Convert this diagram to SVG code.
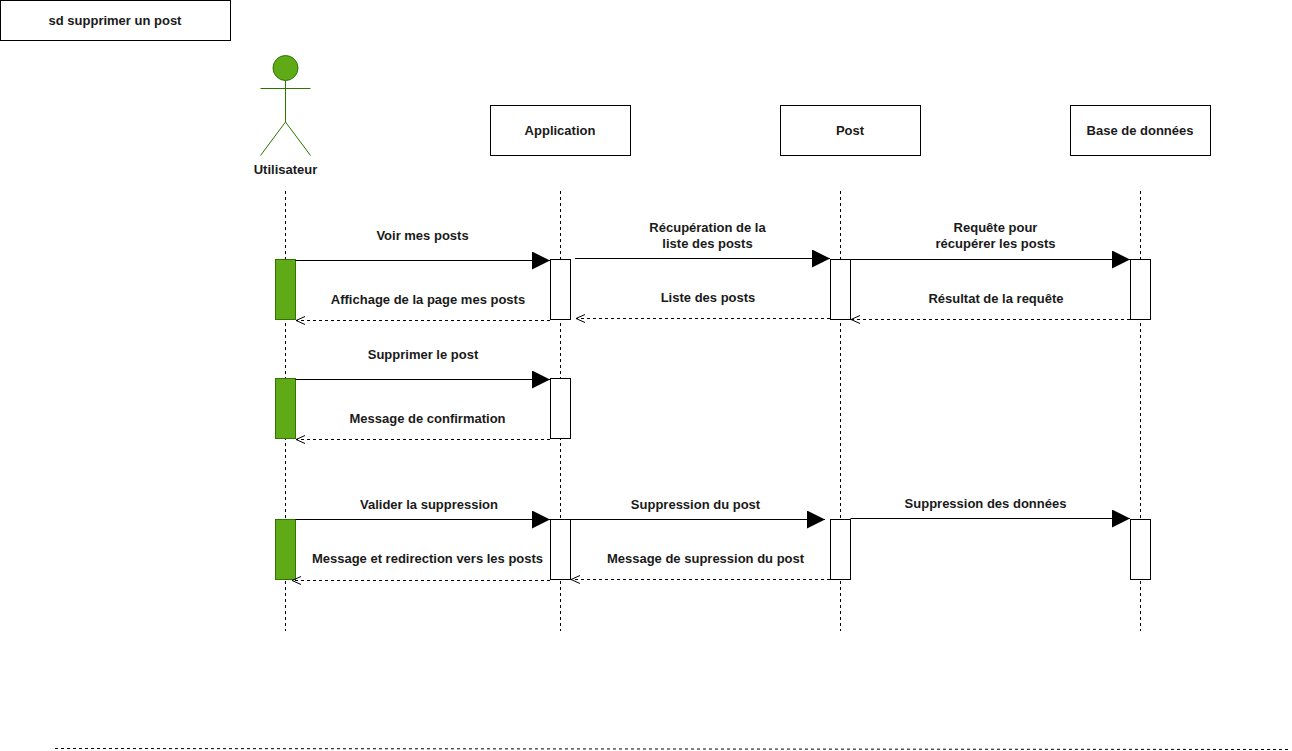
<svg xmlns="http://www.w3.org/2000/svg" width="1292" height="751" viewBox="0 0 1292 751">
<style>
text{font-family:"Liberation Sans",Arial,sans-serif;font-size:13px;font-weight:bold;fill:#1a1a1a;text-anchor:middle}
.box{fill:#fff;stroke:#000;stroke-width:1}
.act{fill:#60a917;stroke:#2d7600;stroke-width:1}
.sync{fill:none;stroke:#000;stroke-width:1;marker-end:url(#tri)}
.ret{fill:none;stroke:#000;stroke-width:1;stroke-dasharray:3 3;marker-end:url(#open)}
.life{fill:none;stroke:#000;stroke-width:1;stroke-dasharray:3 3}
.man{fill:none;stroke:#2d7600;stroke-width:1}
</style>
<defs>
<marker id="tri" markerUnits="userSpaceOnUse" markerWidth="20" markerHeight="20" refX="18" refY="9" orient="auto" viewBox="0 0 20 20"><path d="M0 0L18 9L0 18Z" fill="#000"/></marker>
<marker id="open" markerUnits="userSpaceOnUse" markerWidth="12" markerHeight="12" refX="10" refY="5" orient="auto" viewBox="0 0 12 12"><path d="M1 1L10 5L1 9" fill="none" stroke="#000" stroke-width="1"/></marker>
</defs>
<g id="frame-title"><rect class="box" x="0.5" y="0.5" width="230" height="40"/><text x="115" y="25">sd supprimer un post</text></g>
<g id="utilisateur">
<circle cx="285.500" cy="68" r="12.500" fill="#60a917" stroke="#2d7600"/>
<path class="man" d="M285.500 80.500V122M260.500 88.500H310.500M285.500 122L260.500 155.500M285.500 122L310.500 155.500"/>
<text x="285.500" y="174">Utilisateur</text>
</g>
<g id="application"><rect class="box" x="490.500" y="105.500" width="140" height="50"/><text x="560" y="135">Application</text></g>
<g id="post"><rect class="box" x="780.500" y="105.500" width="140" height="50"/><text x="850" y="135">Post</text></g>
<g id="base"><rect class="box" x="1070.500" y="105.500" width="140" height="50"/><text x="1140" y="135">Base de données</text></g>
<g id="lifelines">
<path class="life" d="M285.500 191V631M560.500 191V631M840.500 191V631M1140.500 191V631"/>
</g>
<g id="activations">
<rect class="act" x="275.500" y="259.500" width="20" height="60"/>
<rect class="box" x="550.500" y="259.500" width="20" height="60"/>
<rect class="box" x="830.500" y="259.500" width="20" height="60"/>
<rect class="box" x="1130.500" y="259.500" width="20" height="60"/>
<rect class="act" x="275.500" y="378.500" width="20" height="60"/>
<rect class="box" x="550.500" y="378.500" width="20" height="60"/>
<rect class="act" x="275.500" y="519.500" width="20" height="60"/>
<rect class="box" x="550.500" y="519.500" width="20" height="60"/>
<rect class="box" x="830.500" y="519.500" width="20" height="60"/>
<rect class="box" x="1130.500" y="519.500" width="20" height="60"/>
</g>
<g id="connectors">
<path class="sync" d="M295.500 260.500H550"/>
<path class="sync" d="M575 258.500H830"/>
<path class="sync" d="M850.500 259.500H1130"/>
<path class="ret" d="M550 320.500H296"/>
<path class="ret" d="M830 318.500H576"/>
<path class="ret" d="M1130 319.500H851"/>
<path class="sync" d="M295.500 379.500H550"/>
<path class="ret" d="M550 439.500H296"/>
<path class="sync" d="M295.500 519.500H550"/>
<path class="sync" d="M570.500 519.500H825"/>
<path class="sync" d="M850.500 518.500H1130"/>
<path class="ret" d="M550 580.500H292"/>
<path class="ret" d="M830 579.500H571"/>
<path class="life" d="M55 748.500L1290 749.500"/>
</g>
<g id="labels">
<text x="422.500" y="240">Voir mes posts</text>
<text x="428" y="304">Affichage de la page mes posts</text>
<text x="707.500" y="232">Récupération de la</text>
<text x="707.500" y="248">liste des posts</text>
<text x="708" y="302">Liste des posts</text>
<text x="995.500" y="232">Requête pour</text>
<text x="995.500" y="248">récupérer les posts</text>
<text x="996" y="303">Résultat de la requête</text>
<text x="423" y="359">Supprimer le post</text>
<text x="427.500" y="423">Message de confirmation</text>
<text x="429" y="509">Valider la suppression</text>
<text x="695.500" y="509">Suppression du post</text>
<text x="985.500" y="508">Suppression des données</text>
<text x="427.500" y="563">Message et redirection vers les posts</text>
<text x="705.500" y="563">Message de supression du post</text>
</g>
</svg>
